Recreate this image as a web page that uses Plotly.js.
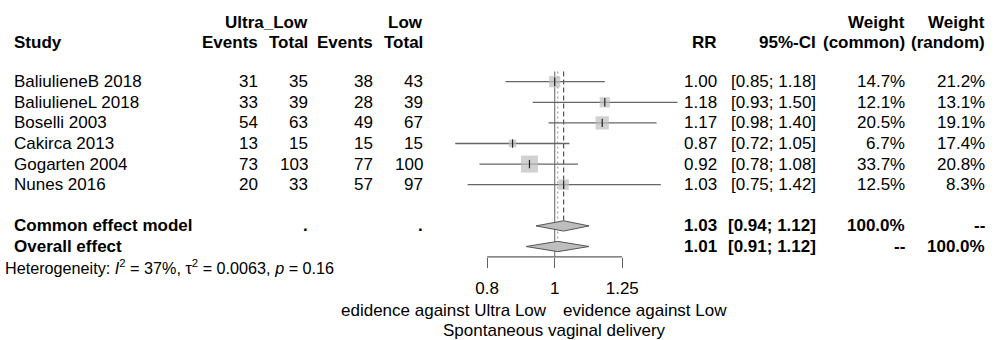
<!DOCTYPE html>
<html>
<head>
<meta charset="utf-8">
<script src="https://cdn.plot.ly/plotly-3.0.1.min.js"></script>
<style>html,body{margin:0;padding:0;background:#fff;}#chart{width:998px;height:340px;}</style>
</head>
<body>
<div id="chart"></div>
<script>
// ---------------- data ----------------
const studies   = ["BaliulieneB 2018","BaliulieneL 2018","Boselli 2003","Cakirca 2013","Gogarten 2004","Nunes 2016"];
const ulEvents  = [31, 33, 54, 13, 73, 20];
const ulTotal   = [35, 39, 63, 15, 103, 33];
const lowEvents = [38, 28, 49, 15, 77, 57];
const lowTotal  = [43, 39, 67, 15, 100, 97];
const rr        = [1.00, 1.18, 1.17, 0.87, 0.92, 1.03];
const ciLo      = [0.85, 0.93, 0.98, 0.72, 0.78, 0.75];
const ciHi      = [1.18, 1.50, 1.40, 1.05, 1.08, 1.42];
const wCommon   = [14.7, 12.1, 20.5, 6.7, 33.7, 12.5];
const wRandom   = [21.2, 13.1, 19.1, 17.4, 20.8, 8.3];
const pooledLabels = ["Common effect model", "Overall effect"];
const pooledRR  = [1.03, 1.01];
const pooledLo  = [0.94, 0.91];
const pooledHi  = [1.12, 1.12];
const pooledWCommon = ["100.0%", "--"];
const pooledWRandom = ["--", "100.0%"];
const hetText = "Heterogeneity: <i>I</i><sup>2</sup> = 37%, τ<sup>2</sup> = 0.0063, <i>p</i> = 0.16";
const tickVals = [0.8, 1, 1.25];
const tickText = ["0.8", "1", "1.25"];
const labelLeft = "edidence against Ultra Low";
const labelRight = "evidence against Low";
const xLabel = "Spontaneous vaginal delivery";

// ---------------- layout helpers ----------------
const W = 998, H = 340;
const FONT = "Liberation Sans, Arial, Helvetica, sans-serif";
const FS = 17;
const row0px = 81.7, rowH = 20.6;           // pixel of first study row, row height
const pxPerDecade = 697, nullPx = 554.7;    // x scale
const yTop = (0 - row0px) / rowH, yBot = (H - row0px) / rowH;
const xMin = (0 - nullPx) / pxPerDecade, xMax = (W - nullPx) / pxPerDecade;
const px = p => p / W;  // pixel -> paper x

const nS = studies.length;
const commonRow = nS + 1, overallRow = nS + 2, hetRow = nS + 3;
const axisRow = overallRow + 0.5;
const studyRows = studies.map((_, i) => i);

const ann = [];
function txt(x, y, t, anchor, bold, size, color) {
  ann.push({xref: 'paper', yref: 'y', x: px(x), y: y, text: bold ? '<b>' + t + '</b>' : t,
    xanchor: anchor, yanchor: 'middle', showarrow: false, borderpad: 0, borderwidth: 0,
    font: {family: FONT, size: size || FS, color: color || '#000'}});
}
const fmt2 = v => v.toFixed(2);
const fmtW = v => v.toFixed(1) + '%';

// column right edges (px)
const cStudy = 14, cUE = 258, cUT = 308, cLE = 373, cLT = 423, cRR = 716.7, cCI = 816, cWC = 905, cWR = 985;

// headers
const h1 = -2.88, h2 = -1.92;
txt(cStudy, h2, 'Study', 'left', true);
txt(cUT, h1, 'Ultra_Low', 'right', true);
txt(cUE, h2, 'Events', 'right', true);
txt(cUT, h2, 'Total', 'right', true);
txt(cLT, h1, 'Low', 'right', true);
txt(cLE, h2, 'Events', 'right', true);
txt(cLT, h2, 'Total', 'right', true);
txt(cRR, h2, 'RR', 'right', true);
txt(cCI, h2, '95%-CI', 'right', true);
txt(cWC, h1, 'Weight', 'right', true);
txt(cWC, h2, '(common)', 'right', true);
txt(cWR, h1, 'Weight', 'right', true);
txt(cWR, h2, '(random)', 'right', true);

// study rows
studies.forEach((s, i) => {
  txt(cStudy, i, s, 'left');
  txt(cUE, i, String(ulEvents[i]), 'right');
  txt(cUT, i, String(ulTotal[i]), 'right');
  txt(cLE, i, String(lowEvents[i]), 'right');
  txt(cLT, i, String(lowTotal[i]), 'right');
  txt(cRR, i, fmt2(rr[i]), 'right');
  txt(cCI, i, '[' + fmt2(ciLo[i]) + '; ' + fmt2(ciHi[i]) + ']', 'right');
  txt(cWC, i, fmtW(wCommon[i]), 'right');
  txt(cWR, i, fmtW(wRandom[i]), 'right');
});

// pooled rows
[commonRow, overallRow].forEach((r, k) => {
  txt(cStudy, r, pooledLabels[k], 'left', true);
  if (k === 0) { txt(cUT, r, '.', 'right', true); txt(cLT, r, '.', 'right', true); }
  txt(cRR, r, fmt2(pooledRR[k]), 'right', true);
  txt(cCI, r, '[' + fmt2(pooledLo[k]) + '; ' + fmt2(pooledHi[k]) + ']', 'right', true);
  txt(cWC, r, pooledWCommon[k], 'right', true);
  txt(cWR, r, pooledWRandom[k], 'right', true);
});
txt(5, hetRow, hetText, 'left', false, 16.2);

// bottom labels
txt(546.7, hetRow + 2.1, labelLeft, 'right', false, 17);
txt(563.3, hetRow + 2.1, labelRight, 'left', false, 17);
txt(nullPx, hetRow + 3.08, xLabel, 'center', false, 17);

// ---------------- traces ----------------
const traces = [];
// reference lines
traces.push({x: [1, 1], y: [-0.5, axisRow], mode: 'lines', line: {color: '#7a7a7a', width: 1.2}, hoverinfo: 'skip'});
traces.push({x: [pooledRR[0], pooledRR[0]], y: [-0.5, commonRow - 0.25], mode: 'lines',
  line: {color: '#444', width: 1.1, dash: '5px,3px'}, hoverinfo: 'skip'});
traces.push({x: [pooledRR[1], pooledRR[1]], y: [-0.5, overallRow - 0.25], mode: 'lines',
  line: {color: '#9a9a9a', width: 1.1, dash: '2px,3px'}, hoverinfo: 'skip'});

// CI lines
const cx = [], cy = [];
studies.forEach((_, i) => { cx.push(ciLo[i], ciHi[i], null); cy.push(i, i, null); });
traces.push({x: cx, y: cy, mode: 'lines', line: {color: '#666', width: 1.3}, hoverinfo: 'skip'});

// squares
traces.push({x: rr, y: studyRows, mode: 'markers', hoverinfo: 'skip',
  marker: {symbol: 'square', size: wCommon.map(w => 2.93 * Math.sqrt(w)), color: '#bebebe', line: {width: 0}}});
// point estimate ticks
traces.push({x: rr, y: studyRows, mode: 'markers', hoverinfo: 'skip',
  marker: {symbol: 'line-ns-open', size: 6, color: '#222', line: {color: '#222', width: 1.2}}});

// diamonds
[commonRow, overallRow].forEach((r, k) => {
  traces.push({x: [pooledLo[k], pooledRR[k], pooledHi[k], pooledRR[k], pooledLo[k]],
    y: [r, r - 0.25, r, r + 0.25, r], mode: 'lines', fill: 'toself', fillcolor: '#bebebe',
    line: {color: '#555', width: 1}, hoverinfo: 'skip'});
});

// axis line (between outer ticks)
traces.push({x: [tickVals[0], tickVals[tickVals.length - 1]], y: [axisRow, axisRow], mode: 'lines',
  line: {color: '#606060', width: 1.2}, hoverinfo: 'skip'});

const layout = {
  width: W, height: H, margin: {l: 0, r: 0, t: 0, b: 0},
  paper_bgcolor: '#fff', plot_bgcolor: '#fff', showlegend: false,
  font: {family: FONT, size: FS, color: '#000'},
  xaxis: {type: 'log', range: [xMin, xMax], domain: [0, 1], anchor: 'free',
    position: (yBot - axisRow) / (yBot - yTop),
    showgrid: false, zeroline: false, showline: false,
    tickmode: 'array', tickvals: tickVals, ticktext: tickText,
    ticks: 'outside', ticklen: 10, tickwidth: 1.2, tickcolor: '#606060',
    ticklabelstandoff: 6, tickfont: {family: FONT, size: 17, color: '#000'}},
  yaxis: {range: [yBot, yTop], domain: [0, 1], showgrid: false, zeroline: false,
    showline: false, showticklabels: false, ticks: ''},
  annotations: ann
};
Plotly.newPlot('chart', traces, layout, {staticPlot: true, displayModeBar: false});
</script>
</body>
</html>
